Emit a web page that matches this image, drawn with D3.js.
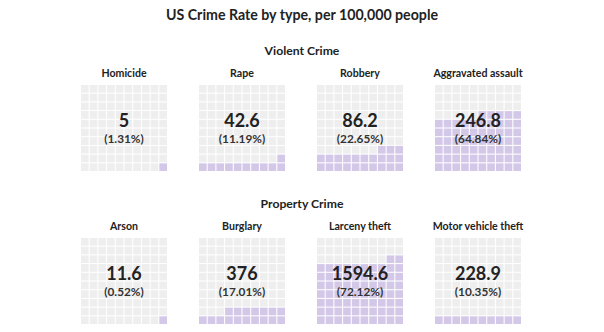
<!DOCTYPE html>
<html><head><meta charset="utf-8">
<script src="https://cdn.jsdelivr.net/npm/d3@7"></script>
<style>
body{margin:0;background:#fff;}
text{font-family:Lato,"Noto Sans",sans-serif;font-weight:bold;fill:#222;}
</style></head>
<body><svg id="c" width="604" height="332"></svg>
<script>
const title = "US Crime Rate by type, per 100,000 people";
const groupNames = ["Violent Crime", "Property Crime"];
const violentCategories = ["Homicide", "Rape", "Robbery", "Aggravated assault"];
const violentValues = [5, 42.6, 86.2, 246.8];
const propertyCategories = ["Arson", "Burglary", "Larceny theft", "Motor vehicle theft"];
const propertyValues = [11.6, 376, 1594.6, 228.9];

const svg = d3.select("#c");
svg.append("text").attr("x", 302).attr("y", 20).attr("text-anchor", "middle")
  .style("font-size", "14.2px").text(title);

const colX = d3.scaleBand().domain(d3.range(4)).range([81, 553]).paddingInner(0);
const gridSize = 86;
const cell = d3.scaleBand().domain(d3.range(10)).range([0, gridSize]).paddingInner(0.12);

const groups = [
  {name: groupNames[0], cats: violentCategories, vals: violentValues, top: 85},
  {name: groupNames[1], cats: propertyCategories, vals: propertyValues, top: 238}
];

groups.forEach(g => {
  const total = d3.sum(g.vals);
  svg.append("text").attr("x", 302).attr("y", g.top - 30).attr("text-anchor", "middle")
    .style("font-size", "12.2px").text(g.name);
  g.cats.forEach((c, i) => {
    const pct = g.vals[i] / total * 100;
    const filled = Math.round(pct);
    const x0 = colX(i);
    const gEl = svg.append("g").attr("transform", `translate(${x0},${g.top})`);
    gEl.append("text").attr("x", gridSize / 2).attr("y", -8).attr("text-anchor", "middle")
      .style("font-size", "10.6px").text(c);
    const cells = d3.range(100).map(k => ({k, row: 9 - Math.floor(k / 10), col: 9 - (k % 10), on: k < filled}));
    gEl.selectAll("rect").data(cells).join("rect")
      .attr("x", d => cell(d.col)).attr("y", d => cell(d.row))
      .attr("width", cell.bandwidth()).attr("height", cell.bandwidth())
      .attr("fill", d => d.on ? "#d4c8e8" : "#eeeeee");
    gEl.append("text").attr("x", gridSize / 2).attr("y", 42).attr("text-anchor", "middle")
      .style("font-size", "18px").text(d3.format("")(g.vals[i]));
    gEl.append("text").attr("x", gridSize / 2).attr("y", 57.5).attr("text-anchor", "middle")
      .style("font-size", "11.8px").style("fill", "#333").text(`(${pct.toFixed(2)}%)`);
  });
});
</script></body></html>
